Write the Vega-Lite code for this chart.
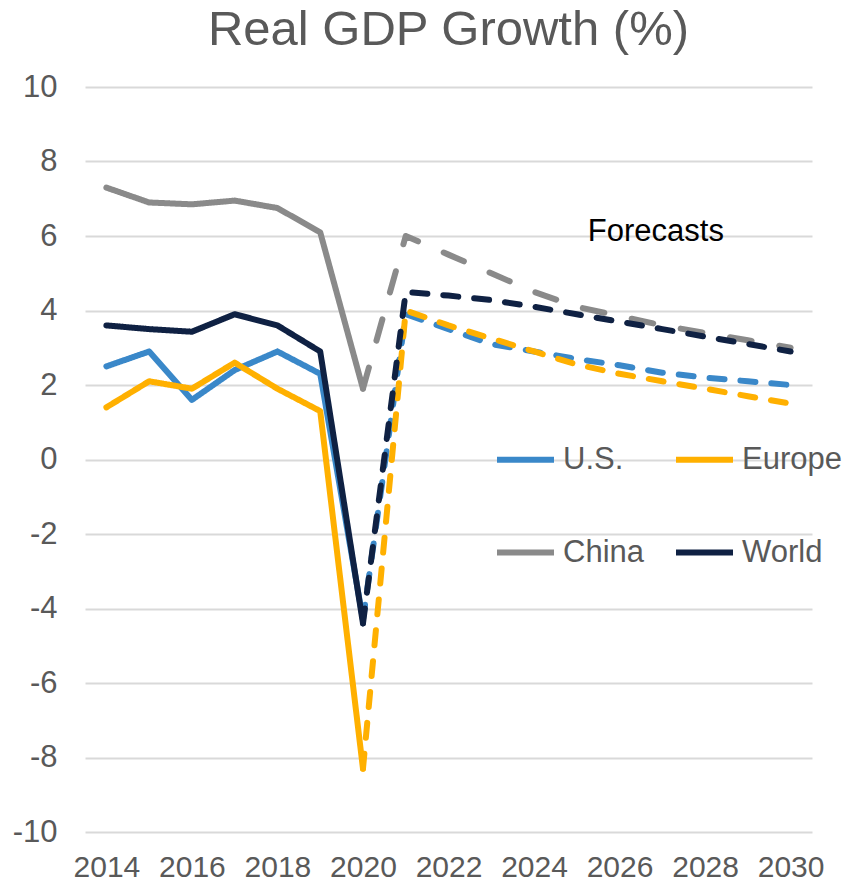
{
  "$schema": "https://vega.github.io/schema/vega-lite/v6.json",
  "width": 727,
  "height": 745,
  "autosize": {"type": "none"},
  "padding": {"left": 85, "top": 87, "right": 30, "bottom": 53},
  "background": "white",
  "title": {
    "text": "Real GDP Growth (%)",
    "font": "Liberation Sans",
    "fontSize": 49,
    "fontWeight": "normal",
    "color": "#595959",
    "anchor": "middle",
    "offset": 16
  },
  "config": {
    "view": {"stroke": null},
    "font": "Liberation Sans"
  },
  "datasets": {
    "gdp": [
      {"region": "U.S.", "style": "solid", "series": "U.S. actual", "year": 2014, "value": 2.5},
      {"region": "U.S.", "style": "solid", "series": "U.S. actual", "year": 2015, "value": 2.9},
      {"region": "U.S.", "style": "solid", "series": "U.S. actual", "year": 2016, "value": 1.6},
      {"region": "U.S.", "style": "solid", "series": "U.S. actual", "year": 2017, "value": 2.4},
      {"region": "U.S.", "style": "solid", "series": "U.S. actual", "year": 2018, "value": 2.9},
      {"region": "U.S.", "style": "solid", "series": "U.S. actual", "year": 2019, "value": 2.3},
      {"region": "U.S.", "style": "solid", "series": "U.S. actual", "year": 2020, "value": -4.3},
      {"region": "U.S.", "style": "dash", "series": "U.S. forecast", "year": 2020, "value": -4.3},
      {"region": "U.S.", "style": "dash", "series": "U.S. forecast", "year": 2021, "value": 3.9},
      {"region": "U.S.", "style": "dash", "series": "U.S. forecast", "year": 2022, "value": 3.5},
      {"region": "U.S.", "style": "dash", "series": "U.S. forecast", "year": 2023, "value": 3.1},
      {"region": "U.S.", "style": "dash", "series": "U.S. forecast", "year": 2024, "value": 2.9},
      {"region": "U.S.", "style": "dash", "series": "U.S. forecast", "year": 2025, "value": 2.7},
      {"region": "U.S.", "style": "dash", "series": "U.S. forecast", "year": 2026, "value": 2.53},
      {"region": "U.S.", "style": "dash", "series": "U.S. forecast", "year": 2027, "value": 2.33},
      {"region": "U.S.", "style": "dash", "series": "U.S. forecast", "year": 2028, "value": 2.2},
      {"region": "U.S.", "style": "dash", "series": "U.S. forecast", "year": 2029, "value": 2.1},
      {"region": "U.S.", "style": "dash", "series": "U.S. forecast", "year": 2030, "value": 2.0},
      {"region": "Europe", "style": "solid", "series": "Europe actual", "year": 2014, "value": 1.4},
      {"region": "Europe", "style": "solid", "series": "Europe actual", "year": 2015, "value": 2.1},
      {"region": "Europe", "style": "solid", "series": "Europe actual", "year": 2016, "value": 1.9},
      {"region": "Europe", "style": "solid", "series": "Europe actual", "year": 2017, "value": 2.6},
      {"region": "Europe", "style": "solid", "series": "Europe actual", "year": 2018, "value": 1.9},
      {"region": "Europe", "style": "solid", "series": "Europe actual", "year": 2019, "value": 1.3},
      {"region": "Europe", "style": "solid", "series": "Europe actual", "year": 2020, "value": -8.3},
      {"region": "Europe", "style": "dash", "series": "Europe forecast", "year": 2020, "value": -8.3},
      {"region": "Europe", "style": "dash", "series": "Europe forecast", "year": 2021, "value": 4.0},
      {"region": "Europe", "style": "dash", "series": "Europe forecast", "year": 2022, "value": 3.6},
      {"region": "Europe", "style": "dash", "series": "Europe forecast", "year": 2023, "value": 3.25},
      {"region": "Europe", "style": "dash", "series": "Europe forecast", "year": 2024, "value": 2.9},
      {"region": "Europe", "style": "dash", "series": "Europe forecast", "year": 2025, "value": 2.55},
      {"region": "Europe", "style": "dash", "series": "Europe forecast", "year": 2026, "value": 2.3},
      {"region": "Europe", "style": "dash", "series": "Europe forecast", "year": 2027, "value": 2.1},
      {"region": "Europe", "style": "dash", "series": "Europe forecast", "year": 2028, "value": 1.9},
      {"region": "Europe", "style": "dash", "series": "Europe forecast", "year": 2029, "value": 1.7},
      {"region": "Europe", "style": "dash", "series": "Europe forecast", "year": 2030, "value": 1.5},
      {"region": "China", "style": "solid", "series": "China actual", "year": 2014, "value": 7.3},
      {"region": "China", "style": "solid", "series": "China actual", "year": 2015, "value": 6.9},
      {"region": "China", "style": "solid", "series": "China actual", "year": 2016, "value": 6.85},
      {"region": "China", "style": "solid", "series": "China actual", "year": 2017, "value": 6.95},
      {"region": "China", "style": "solid", "series": "China actual", "year": 2018, "value": 6.75},
      {"region": "China", "style": "solid", "series": "China actual", "year": 2019, "value": 6.1},
      {"region": "China", "style": "solid", "series": "China actual", "year": 2020, "value": 1.9},
      {"region": "China", "style": "longdash", "series": "China forecast", "year": 2020, "value": 1.9},
      {"region": "China", "style": "longdash", "series": "China forecast", "year": 2021, "value": 6.0},
      {"region": "China", "style": "longdash", "series": "China forecast", "year": 2022, "value": 5.5},
      {"region": "China", "style": "longdash", "series": "China forecast", "year": 2023, "value": 5.0},
      {"region": "China", "style": "longdash", "series": "China forecast", "year": 2024, "value": 4.5},
      {"region": "China", "style": "longdash", "series": "China forecast", "year": 2025, "value": 4.1},
      {"region": "China", "style": "longdash", "series": "China forecast", "year": 2026, "value": 3.85},
      {"region": "China", "style": "longdash", "series": "China forecast", "year": 2027, "value": 3.6},
      {"region": "China", "style": "longdash", "series": "China forecast", "year": 2028, "value": 3.4},
      {"region": "China", "style": "longdash", "series": "China forecast", "year": 2029, "value": 3.2},
      {"region": "China", "style": "longdash", "series": "China forecast", "year": 2030, "value": 3.0},
      {"region": "World", "style": "solid", "series": "World actual", "year": 2014, "value": 3.6},
      {"region": "World", "style": "solid", "series": "World actual", "year": 2015, "value": 3.5},
      {"region": "World", "style": "solid", "series": "World actual", "year": 2016, "value": 3.43},
      {"region": "World", "style": "solid", "series": "World actual", "year": 2017, "value": 3.9},
      {"region": "World", "style": "solid", "series": "World actual", "year": 2018, "value": 3.6},
      {"region": "World", "style": "solid", "series": "World actual", "year": 2019, "value": 2.9},
      {"region": "World", "style": "solid", "series": "World actual", "year": 2020, "value": -4.4},
      {"region": "World", "style": "dash", "series": "World forecast", "year": 2020, "value": -4.4},
      {"region": "World", "style": "dash", "series": "World forecast", "year": 2021, "value": 4.5},
      {"region": "World", "style": "dash", "series": "World forecast", "year": 2022, "value": 4.4},
      {"region": "World", "style": "dash", "series": "World forecast", "year": 2023, "value": 4.28},
      {"region": "World", "style": "dash", "series": "World forecast", "year": 2024, "value": 4.1},
      {"region": "World", "style": "dash", "series": "World forecast", "year": 2025, "value": 3.9},
      {"region": "World", "style": "dash", "series": "World forecast", "year": 2026, "value": 3.7},
      {"region": "World", "style": "dash", "series": "World forecast", "year": 2027, "value": 3.5},
      {"region": "World", "style": "dash", "series": "World forecast", "year": 2028, "value": 3.3},
      {"region": "World", "style": "dash", "series": "World forecast", "year": 2029, "value": 3.1},
      {"region": "World", "style": "dash", "series": "World forecast", "year": 2030, "value": 2.9}
    ],
    "note": [
      {"label": "Forecasts", "year": 2026.85, "value": 6.1}
    ]
  },
  "layer": [
    {
      "data": {"name": "gdp"},
      "mark": {"type": "line", "strokeWidth": 6, "strokeCap": "round", "strokeJoin": "round"},
      "encoding": {
        "x": {
          "field": "year",
          "type": "quantitative",
          "scale": {"domain": [2013.5, 2030.5], "nice": false, "zero": false},
          "axis": {
            "title": null,
            "values": [2014, 2016, 2018, 2020, 2022, 2024, 2026, 2028, 2030],
            "format": "d",
            "grid": false,
            "ticks": false,
            "domain": false,
            "labelFontSize": 30,
            "labelFont": "Liberation Sans",
            "labelColor": "#595959",
            "labelPadding": 20,
            "labelFlush": false,
            "labelOverlap": false
          }
        },
        "y": {
          "field": "value",
          "type": "quantitative",
          "scale": {"domain": [-10, 10], "nice": false},
          "axis": {
            "title": null,
            "values": [-10, -8, -6, -4, -2, 0, 2, 4, 6, 8, 10],
            "labelExpr": "'' + datum.value",
            "grid": true,
            "gridColor": "#d9d9d9",
            "gridWidth": 2,
            "ticks": false,
            "domain": false,
            "labelFontSize": 31,
            "labelFont": "Liberation Sans",
            "labelColor": "#595959",
            "labelPadding": 28,
            "labelFlush": false,
            "labelOverlap": false
          }
        },
        "color": {
          "field": "region",
          "type": "nominal",
          "scale": {
            "domain": ["U.S.", "Europe", "China", "World"],
            "range": ["#3a88c9", "#ffb000", "#8a8a8a", "#0f2143"]
          },
          "legend": {
            "title": null,
            "orient": "none",
            "legendX": 409,
            "legendY": 341,
            "columns": 2,
            "direction": "horizontal",
            "padding": 0,
            "symbolType": "stroke",
            "symbolSize": 3249,
            "symbolStrokeWidth": 6,
            "labelFontSize": 31,
            "labelFont": "Liberation Sans",
            "labelColor": "#595959",
            "labelOffset": 6,
            "rowPadding": 46,
            "columnPadding": 20,
            "labelLimit": 300
          }
        },
        "strokeDash": {
          "field": "style",
          "type": "nominal",
          "scale": {
            "domain": ["solid", "dash", "longdash"],
            "range": [[1, 0], [15, 16], [22, 28]]
          },
          "legend": null
        },
        "detail": {"field": "series", "type": "nominal"},
        "order": {"field": "year", "type": "quantitative"}
      }
    },
    {
      "data": {"name": "note"},
      "mark": {"type": "text", "font": "Liberation Sans", "fontSize": 31, "color": "#000000", "align": "center", "baseline": "middle"},
      "encoding": {
        "x": {"field": "year", "type": "quantitative"},
        "y": {"field": "value", "type": "quantitative"},
        "text": {"field": "label"}
      }
    }
  ]
}
